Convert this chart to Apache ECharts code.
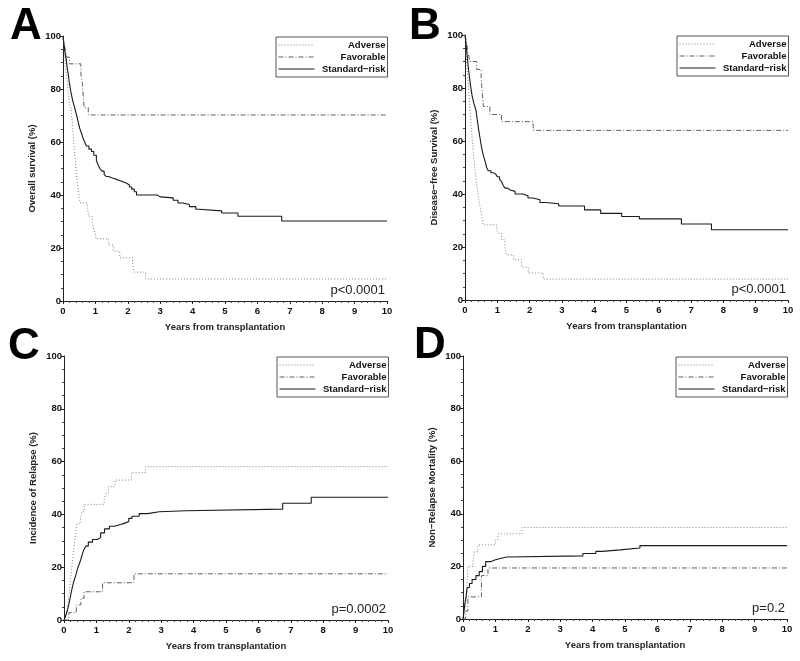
<!DOCTYPE html>
<html><head><meta charset="utf-8">
<script src="https://cdn.jsdelivr.net/npm/echarts@6/dist/echarts.min.js"></script>
<style>html,body{margin:0;padding:0;background:#fff}#c{width:800px;height:661px}</style>
</head><body><div id="c"></div><script>
// ---------- data (years, percent) ----------
const seriesNames = ['Adverse', 'Favorable', 'Standard\u2212risk'];
const xTicks = [0,1,2,3,4,5,6,7,8,9,10];
const panelLetters = ['A','B','C','D'];
const yTitles = ['Overall survival (%)', 'Disease\u2212free Survival (%)', 'Incidence of Relapse (%)', 'Non\u2212Relapse Mortality (%)'];
const xTitle = 'Years from transplantation';
const pValues = ['p<0.0001', 'p<0.0001', 'p=0.0002', 'p=0.2'];

const osAdverse = [[0,100],[0.05,93],[0.1,86],[0.15,80],[0.2,74],[0.25,73],[0.3,65],[0.35,57],[0.4,50],[0.45,44],[0.5,39],[0.53,37],[0.75,35],[0.8,32],[0.9,29.5],[0.95,27],[1.0,25.5],[1.02,23.5],[1.4,21.2],[1.55,18.8],[1.75,16.3],[2.15,13.5],[2.2,10.9],[2.55,8.3],[10,8.3]];
const osFavorable = [[0,100],[0.03,97],[0.07,95],[0.12,92],[0.2,89.5],[0.55,86],[0.6,82],[0.65,73],[0.78,70.2],[10,70.2]];
const osStandard = [[0,100],[0.03,97],[0.06,94],[0.1,91],[0.13,88],[0.17,85],[0.2,82],[0.25,78.5],[0.3,75.5],[0.36,73],[0.42,70],[0.47,67.5],[0.52,65],[0.58,63],[0.63,61],[0.67,60],[0.72,58.5],[0.8,57.3],[0.88,56.4],[0.95,55],[1.03,53],[1.08,51.5],[1.14,50],[1.2,49],[1.27,47.8],[1.33,47],[1.4,46.3],[1.55,45.7],[1.7,45],[1.85,44.5],[1.95,43.8],[2.05,43],[2.12,42.2],[2.2,41.2],[2.27,40],[2.9,39.3],[3.0,38.9],[3.4,38],[3.55,37],[3.7,36.4],[3.9,35.6],[4.1,34.6],[4.2,34],[4.9,33.2],[5.4,32],[6.75,30.2],[10,30.2]];

const dfsAdverse = [[0,100],[0.04,92],[0.08,85],[0.12,78],[0.16,71],[0.2,64],[0.25,57],[0.3,50],[0.35,45],[0.4,40],[0.44,37.5],[0.48,34],[0.52,31.5],[0.56,28.4],[0.98,26.5],[1.03,25.2],[1.13,22.7],[1.24,19.6],[1.29,17],[1.5,15.2],[1.75,12.4],[1.96,10.2],[2.42,7.9],[10,7.9]];
const dfsFavorable = [[0,100],[0.05,97],[0.1,93],[0.15,90],[0.36,87],[0.5,84],[0.52,80.5],[0.57,73],[0.77,70],[1.13,67.3],[2.11,64],[10,64]];
const dfsStandard = [[0,100],[0.03,97],[0.06,93],[0.1,88],[0.13,85],[0.17,81],[0.22,77],[0.28,74],[0.34,71.6],[0.38,68],[0.42,64.5],[0.46,61.5],[0.5,58.5],[0.54,56],[0.58,54],[0.63,52],[0.67,50],[0.72,48.8],[0.8,48],[0.88,47.5],[0.95,47],[1.0,46.5],[1.07,45.5],[1.13,44.7],[1.18,43.3],[1.24,42.2],[1.32,41.5],[1.4,41],[1.55,40],[1.8,39.3],[1.95,38.5],[2.11,37.8],[2.32,36.8],[2.5,36.3],[2.9,35.5],[3.7,34],[4.2,32.7],[4.85,31.5],[5.4,30.6],[6.7,28.7],[7.63,26.5],[10,26.5]];

const relAdverse = [[0,0],[0.05,1],[0.1,4],[0.15,9],[0.2,15],[0.25,21],[0.3,27],[0.35,32],[0.4,36.5],[0.5,37.5],[0.55,41],[0.62,43.8],[1.24,45.7],[1.3,48],[1.37,50.5],[1.57,53],[2.08,55.8],[2.51,58.1],[10,58.1]];
const relFavorable = [[0,0],[0.15,2.8],[0.38,5.7],[0.52,8.2],[0.62,10.7],[1.19,14.1],[2.16,17.5],[10,17.5]];
const relStandard = [[0,0],[0.05,1.5],[0.1,3.5],[0.15,6],[0.2,9],[0.25,12],[0.3,14.5],[0.36,16.8],[0.42,19.5],[0.48,21.5],[0.52,23],[0.58,25.5],[0.62,26.8],[0.68,28],[0.75,29.5],[0.88,30.5],[1.03,31.2],[1.13,33],[1.25,34.5],[1.4,35.5],[1.55,36.2],[1.75,36.6],[1.86,37.3],[2.0,38.5],[2.1,39.3],[2.32,40.3],[2.58,41],[2.94,41.4],[3.76,42],[6.75,44.2],[7.63,46.5],[10,46.5]];

const nrmAdverse = [[0,0],[0.05,3],[0.1,8],[0.13,14],[0.15,20],[0.31,22.5],[0.36,25.6],[0.46,28.2],[1.0,30.2],[1.08,32.4],[1.82,34.8],[10,34.8]];
const nrmFavorable = [[0,0],[0.08,3],[0.15,8.4],[0.57,16.5],[0.77,19.4],[10,19.4]];
const nrmStandard = [[0,0],[0.03,3],[0.06,6],[0.1,9],[0.13,12],[0.2,13.5],[0.28,15],[0.4,16.5],[0.5,18],[0.6,20],[0.7,21.8],[0.85,22.5],[1.0,23],[1.15,23.6],[1.35,24],[3.7,24.9],[4.1,25.7],[4.3,26.3],[4.85,27],[5.46,27.9],[10,27.9]];

const panelData = [
  [osAdverse, osFavorable, osStandard],
  [dfsAdverse, dfsFavorable, dfsStandard],
  [relAdverse, relFavorable, relStandard],
  [nrmAdverse, nrmFavorable, nrmStandard]
];

// ---------- layout / style ----------
const grids = [
  {left:63, top:36, width:324, height:265},
  {left:465, top:35, width:323, height:265},
  {left:64, top:356, width:324, height:264},
  {left:463, top:356, width:324, height:263}
];
const letterPos = [[26,27],[425,27],[24,347],[430,346]];
const lineStyles = [
  {color:'#808080', width:1, type:[1,2]},
  {color:'#606060', width:1, type:[5,2,1,2]},
  {color:'#1a1a1a', width:1.1, type:'solid'}
];
const FONT = '"Liberation Sans", Arial, sans-serif';

const chart = echarts.init(document.getElementById('c'), null, {renderer:'canvas'});
const xAxes = [], yAxes = [], series = [], legends = [], graphics = [];
grids.forEach((g, i) => {
  xAxes.push({
    type:'value', gridIndex:i, min:0, max:10, interval:1,
    name: xTitle, nameLocation:'middle', nameGap:21,
    nameTextStyle:{fontFamily:FONT, fontSize:9.5, fontWeight:'bold', color:'#222'},
    axisLine:{show:true, lineStyle:{color:'#222', width:1}},
    axisTick:{show:true, length:3, lineStyle:{color:'#222'}},
    minorTick:{show:true, splitNumber:5, length:2, lineStyle:{color:'#444'}},
    splitLine:{show:false},
    axisLabel:{fontFamily:FONT, fontSize:9.5, fontWeight:'bold', color:'#111', margin:5,
      formatter: v => xTicks.includes(v) ? String(v) : ''}
  });
  yAxes.push({
    type:'value', gridIndex:i, min:0, max:100, interval:20,
    name: yTitles[i], nameLocation:'middle', nameGap:26, nameRotate:90,
    nameTextStyle:{fontFamily:FONT, fontSize:9.5, fontWeight:'bold', color:'#222'},
    axisLine:{show:true, lineStyle:{color:'#222', width:1}},
    axisTick:{show:true, length:3, lineStyle:{color:'#222'}},
    minorTick:{show:true, splitNumber:4, length:2, lineStyle:{color:'#444'}},
    splitLine:{show:false},
    axisLabel:{fontFamily:FONT, fontSize:9.5, fontWeight:'bold', color:'#111', margin:2}
  });
  panelData[i].forEach((d, k) => {
    series.push({
      type:'line', name: seriesNames[k], xAxisIndex:i, yAxisIndex:i,
      data: d, step:'end', symbol:'none', silent:true, animation:false,
      color: lineStyles[k].color,
      itemStyle:{color: lineStyles[k].color},
      lineStyle: lineStyles[k]
    });
  });
  const legendRight = g.left + g.width;
  legends.push({
    data: seriesNames, orient:'vertical', left: legendRight - 111, top: g.top + 1,
    padding:[3,2,3,2], itemGap:2, itemWidth:36, itemHeight:10,
    borderColor:'#555', borderWidth:1, selectedMode:false,
    itemStyle:{opacity:0},
    lineStyle:{width:1},
    textStyle:{fontFamily:FONT, fontSize:9.5, fontWeight:'bold', color:'#111',
      rich:{r:{width:66, align:'right', fontFamily:FONT, fontSize:9.5, fontWeight:'bold', color:'#111'}}},
    formatter: name => '{r|' + name + '}'
  });
  graphics.push({
    type:'text', x: letterPos[i][0], y: letterPos[i][1],
    style:{text: panelLetters[i], font:'bold 44px ' + FONT, fill:'#000', align:'center', verticalAlign:'middle'}
  });
  graphics.push({
    type:'text', x: legendRight - 2, y: g.top + g.height - 4,
    style:{text: pValues[i], font:'13px ' + FONT, fill:'#222', align:'right', verticalAlign:'bottom'}
  });
});

chart.setOption({
  animation:false,
  backgroundColor:'#fff',
  grid: grids.map(g => Object.assign({containLabel:false}, g)),
  xAxis: xAxes, yAxis: yAxes, series: series, legend: legends, graphic: graphics
});
</script></body></html>
